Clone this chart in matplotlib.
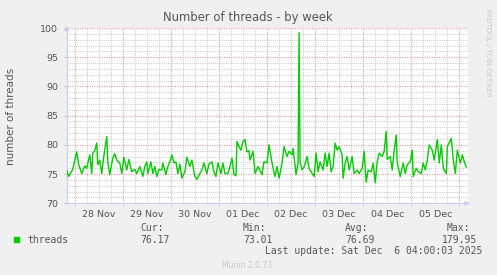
import datetime as dt

import matplotlib
matplotlib.use('Agg')
import matplotlib.pyplot as plt
import matplotlib.dates as mdates
import pandas as pd

# munin "threads" weekly graph, 30 min steps
START = dt.datetime(2025, 11, 27, 20, 0)
END = dt.datetime(2025, 12, 6, 4, 20)

hours = [
    0, 1, 3, 5, 6, 7.5, 9, 10, 11.5, 12.5, 13, 14, 15, 15.5, 16.5, 17.5, 18.5, 20, 20.5, 21.5,
    23, 24, 25, 26.5, 27.5, 28.5, 30, 31, 32.5, 34, 35, 36.5, 38, 39, 40, 40.5, 42, 43, 44, 45,
    46, 47.5, 48, 49.5, 50.5, 51.5, 52.5, 53.5, 54.5, 55.5, 56.5, 57.5, 59, 60, 61.5, 62.5, 64,
    65, 66.5, 67.5, 68.5, 70, 71, 72.5, 73.5, 74.5, 75.5, 77, 78, 79, 80.5, 81.5, 82.5, 83.5,
    84.5, 85, 86, 87, 88, 89, 90, 91, 91.5, 93, 94, 95.5, 97.5, 98.5, 100, 101, 102.5, 104,
    105, 106, 107.5, 108.5, 110, 111, 112.5, 113, 114.5, 115.5, 116, 116.5, 117.5, 118.5, 120,
    121, 122.5, 123.5, 124.5, 125.5, 126.5, 128, 129, 130, 131, 132, 133, 134, 135, 136, 137.5,
    138, 139, 140, 141, 142.5, 143.5, 145, 146, 147.5, 148.5, 149.5, 150.5, 152, 153, 154, 155,
    156, 157.5, 158.5, 159.5, 160, 161.5, 162.5, 163.5, 164.5, 165, 166.5, 168, 169, 170,
    171.5, 172.5, 173, 174.5, 175.5, 177, 178, 179, 180, 181, 182.5, 183.5, 185, 186, 187, 188,
    189.5, 190, 192, 193, 194, 195, 196.5, 197.5, 198.5, 199.5,
]
threads = [
    75.7, 74.6, 75.8, 78.8, 76.6, 75.1, 76.4, 76.0, 78.3, 75.1, 78.6, 79.0, 80.3, 76.6, 77.4,
    75.1, 78.0, 81.4, 77.1, 74.9, 77.7, 78.5, 77.4, 76.9, 75.1, 77.9, 75.7, 77.5, 75.4, 75.8,
    75.1, 76.3, 74.6, 76.3, 77.1, 75.1, 77.1, 75.1, 76.3, 74.6, 75.8, 75.7, 76.9, 74.9, 76.3,
    77.1, 78.3, 76.9, 77.1, 75.1, 76.7, 74.3, 75.4, 77.9, 76.3, 77.4, 74.6, 74.1, 75.1, 75.7,
    76.9, 75.1, 76.7, 77.1, 75.4, 74.6, 76.9, 75.1, 76.9, 75.1, 75.1, 76.3, 77.7, 74.9, 74.7,
    80.6, 79.7, 79.1, 80.6, 80.9, 78.8, 79.0, 77.4, 78.9, 75.1, 76.3, 74.9, 77.1, 76.9, 80.0,
    76.9, 74.6, 76.3, 74.3, 76.9, 79.7, 78.0, 78.9, 78.3, 79.4, 74.9, 76.9, 99.2, 77.0, 75.7,
    76.2, 78.0, 76.0, 75.1, 74.6, 78.6, 75.4, 77.1, 75.7, 78.6, 76.3, 78.6, 75.4, 76.3, 80.3,
    79.1, 79.7, 78.3, 74.3, 76.9, 78.0, 75.7, 78.0, 75.1, 75.7, 75.1, 76.0, 78.9, 73.6, 75.7,
    75.4, 76.9, 73.5, 77.1, 78.6, 78.0, 78.9, 82.3, 77.5, 78.0, 75.7, 79.1, 81.7, 76.9, 74.6,
    76.9, 75.1, 76.6, 77.1, 79.1, 74.6, 76.0, 75.4, 75.1, 76.9, 75.7, 77.4, 80.0, 79.1, 77.4,
    80.9, 76.9, 80.0, 76.0, 75.1, 79.7, 81.1, 77.4, 75.1, 79.1, 76.9, 78.3, 77.1, 76.2,
]

y_ticks = [70, 75, 80, 85, 90, 95, 100]
legend_cols = ['Cur:', 'Min:', 'Avg:', 'Max:']
legend_vals = ['76.17', '73.01', '76.69', '179.95']
last_update = 'Last update: Sat Dec  6 04:00:03 2025'

BG = '#F0F0F0'
TXT = '#555555'
GREEN = '#00CC00'
W, H = 497, 275


def px(x, y):
    """pixel of the picture -> figure fraction"""
    return x / W, 1 - y / H


times = [START + dt.timedelta(hours=h) for h in hours]

fig = plt.figure(figsize=(W / 100, H / 100), dpi=100, facecolor=BG)
ax = fig.add_axes([66.7 / W, 1 - 203.3 / H, (468 - 66.7) / W, (203.3 - 28) / H])
ax.set_facecolor('white')

# grid: grey every 6 h / 1 unit, red every day / 5 units
for t in pd.date_range('2025-11-27 18:00', END, freq='6h'):
    if t.hour == 0:
        ax.axvline(t, ymin=-0.015, color='#E4A0A0', lw=0.8, ls=(0, (1, 1.2)), zorder=1,
                   clip_on=False)
    else:
        ax.axvline(t, color='#C8C8C8', lw=0.7, ls=(0, (1, 1.2)), zorder=0)
for v in range(70, 101):
    if v % 5 == 0:
        ax.axhline(v, color='#E4A0A0', lw=0.8, ls=(0, (1, 1.2)), zorder=1)
    else:
        ax.axhline(v, color='#C8C8C8', lw=0.7, ls=(0, (1, 1.2)), zorder=0)

ax.plot(times, threads, color=GREEN, lw=1.0, zorder=3)

ax.set_xlim(START, END)
ax.set_ylim(70, 100)
ax.set_yticks(y_ticks)
noons = pd.date_range('2025-11-28 12:00', '2025-12-05 12:00', freq='D')
ax.set_xticks(noons)
ax.xaxis.set_major_formatter(mdates.DateFormatter('%d %b'))
ax.tick_params(axis='x', length=0, pad=5, labelsize=6.8, labelcolor=TXT)
ax.tick_params(axis='y', length=2, color='#C0C0C0', pad=4, labelsize=6.8, labelcolor=TXT)

for side in ('top', 'right'):
    ax.spines[side].set_visible(False)
for side in ('left', 'bottom'):
    ax.spines[side].set_color('#CCCCEE')
    ax.spines[side].set_linewidth(0.8)
ax.annotate('', xy=(1.012, 0), xytext=(0.99, 0), xycoords='axes fraction',
            arrowprops=dict(arrowstyle='-|>', color='#CCCCEE', lw=0.8, mutation_scale=7))
ax.annotate('', xy=(0, 1.03), xytext=(0, 0.99), xycoords='axes fraction',
            arrowprops=dict(arrowstyle='-|>', color='#CCCCEE', lw=0.8, mutation_scale=7))

fig.text(*px(248, 18), 'Number of threads - by week', ha='center', va='center',
         fontsize=8.4, color=TXT)
fig.text(*px(11, 116), 'number of threads', rotation=90, ha='center', va='center',
         fontsize=7.5, color=TXT)
fig.text(*px(488, 52), 'RRDTOOL / TOBI OETIKER', rotation=-90, ha='center', va='center',
         fontsize=5, color='#C8C8C8')

# legend block
fig.patches.append(plt.Rectangle(px(14, 242), 5 / W, 5 / H, transform=fig.transFigure,
                                 color=GREEN, figure=fig))
mono = dict(family='DejaVu Sans Mono', fontsize=7, color=TXT, va='center')
fig.text(*px(27, 240), 'threads', **mono)
for x, head, val in zip([140, 243, 345, 447], legend_cols, legend_vals):
    if head == 'Max:':
        fig.text(*px(470, 228), head, ha='right', **mono)
        fig.text(*px(477, 240), val, ha='right', **mono)
    else:
        fig.text(*px(x, 228), head, **mono)
        fig.text(*px(x, 240), val, **mono)
fig.text(*px(482, 251), last_update, ha='right', **mono)
fig.text(*px(247, 265), 'Munin 2.0.73', ha='center', va='center', fontsize=5.5,
         color='#C8C8C8')

fig.savefig('out.png', dpi=100, facecolor=BG)
